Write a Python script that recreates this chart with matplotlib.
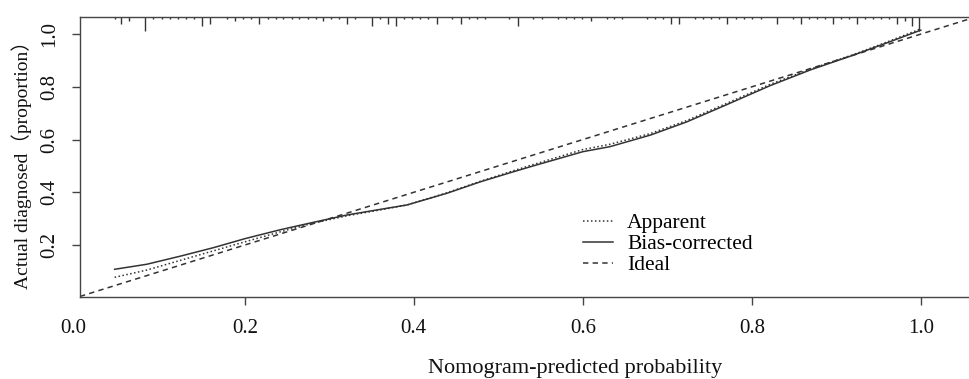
import numpy as np
import matplotlib
matplotlib.use("Agg")
from matplotlib import pyplot as plt

# calibration curves
pred_x = [0.046, 0.084, 0.124, 0.163, 0.2, 0.242, 0.281, 0.321, 0.36, 0.392,
          0.439, 0.479, 0.518, 0.538, 0.6, 0.632, 0.68, 0.723, 0.77, 0.822,
          0.87, 0.92, 0.96, 1.0]
bias_corrected = [0.108, 0.127, 0.158, 0.19, 0.224, 0.258, 0.286, 0.314, 0.335, 0.352,
                  0.396, 0.44, 0.478, 0.497, 0.554, 0.573, 0.617, 0.667, 0.732, 0.805,
                  0.865, 0.92, 0.967, 1.015]
apparent = [0.0775, 0.105, 0.142, 0.178, 0.212, 0.25, 0.283, 0.311, 0.333, 0.352,
            0.398, 0.442, 0.482, 0.502, 0.562, 0.582, 0.623, 0.672, 0.737, 0.81,
            0.868, 0.922, 0.97, 1.02]

# distribution of predicted probabilities (spikes along the top)
rug_x = [0.0467, 0.0538, 0.0633, 0.0822, 0.0917, 0.1024, 0.1118, 0.1213, 0.1308, 0.1402,
         0.1497, 0.1592, 0.1793, 0.1888, 0.1982, 0.2077, 0.2172, 0.2278, 0.2373, 0.2456,
         0.2562, 0.2645, 0.2751, 0.2846, 0.2929, 0.3024, 0.3118, 0.3213, 0.3308, 0.3509,
         0.3604, 0.3698, 0.3793, 0.3888, 0.3982, 0.4077, 0.4172, 0.4278, 0.4456, 0.4562,
         0.4657, 0.4751, 0.4846, 0.5130, 0.5237, 0.5414, 0.5521, 0.5710, 0.5805, 0.5899,
         0.5994, 0.6101, 0.6290, 0.6373, 0.6468, 0.6763, 0.6858, 0.6953, 0.7047, 0.7142,
         0.7331, 0.7426, 0.7521, 0.7615, 0.7710, 0.7817, 0.7911, 0.8006, 0.8112, 0.8302,
         0.8491, 0.8586, 0.8680, 0.8775, 0.8870, 0.8964, 0.9059, 0.9154, 0.9249, 0.9343,
         0.9438, 0.9533, 0.9627, 0.9722, 0.9816, 0.9900, 0.9975]
rug_freq = [1, 3, 2, 6, 1, 1, 1, 1, 1, 1,
            4, 3, 1, 2, 1, 1, 3, 1, 1, 1,
            1, 1, 1, 1, 2, 1, 1, 3, 1, 4,
            1, 3, 4, 1, 1, 1, 1, 3, 1, 3,
            1, 1, 1, 1, 4, 1, 1, 1, 1, 1,
            1, 2, 1, 1, 1, 1, 1, 1, 3, 3,
            1, 1, 1, 1, 3, 1, 1, 1, 1, 3,
            1, 3, 1, 1, 1, 3, 1, 1, 3, 1,
            1, 1, 1, 3, 2, 4, 6]

x_ticks = [0.2, 0.4, 0.6, 0.8, 1.0]
y_ticks = [0.2, 0.4, 0.6, 0.8, 1.0]
legend_labels = ["Apparent", "Bias-corrected", "Ideal"]

plt.rcParams['font.family'] = ['Liberation Serif', 'Noto Sans CJK SC']
ink = '#333333'

fig = plt.figure(figsize=(9.69, 3.79), dpi=100)
ax = fig.add_axes([80 / 969, 1 - 296.7 / 379, 1 - 80 / 969, (296.7 - 16.7) / 379])
ax.set_xlim(0.005, 1.057)
ax.set_ylim(0.004, 1.066)

l_app, = ax.plot(pred_x, apparent, color=ink, lw=1.1, linestyle=(0, (1, 1.6)))
l_bc, = ax.plot(pred_x, bias_corrected, color=ink, lw=1.1, linestyle='-')
l_id = ax.axline((0, 0), slope=1, color=ink, lw=1.1, linestyle=(0, (3.5, 2.8)))

ytop = ax.get_ylim()[1]
unit = 2.4 / 263.75
ax.vlines(rug_x, ytop - np.array(rug_freq) * unit, ytop, color=ink, lw=1.0)

for s in ['left', 'bottom', 'top']:
    ax.spines[s].set_color('#444444')
    ax.spines[s].set_linewidth(1.0)
ax.spines['right'].set_visible(False)

ax.set_xticks(x_ticks)
ax.set_xticklabels(['%.1f' % v for v in x_ticks])
ax.set_yticks(y_ticks)
ax.set_yticklabels(['%.1f' % v for v in y_ticks], rotation=90, va='center')
ax.tick_params(axis='both', length=6, width=1.0, color='#444444', labelsize=15,
               labelcolor='#111111')
ax.tick_params(axis='x', pad=10)
ax.tick_params(axis='y', pad=9)
ax.annotate('0.0', xy=(0.0, 0), xycoords=('data', 'axes fraction'),
            xytext=(-2, -16), textcoords='offset points', ha='center', va='top',
            fontsize=15, color='#111111', annotation_clip=False)

fig.text(575 / 969, 1 - 369 / 379, 'Nomogram-predicted probability',
         ha='center', va='center', fontsize=16, color='#111111')
fig.text(22 / 969, 1 - 160 / 379, 'Actual diagnosed\uff08proportion\uff09',
         ha='center', va='center', rotation=90, fontsize=14, color='#111111')

ax.legend([l_app, l_bc, l_id], legend_labels, loc='upper left',
          bbox_to_anchor=(583 / 969, 1 - 213 / 379), bbox_transform=fig.transFigure,
          frameon=False, fontsize=15.5, handlelength=1.4, handletextpad=0.65,
          labelspacing=0.05, borderpad=0, borderaxespad=0)

fig.savefig('out.png', dpi=100)
